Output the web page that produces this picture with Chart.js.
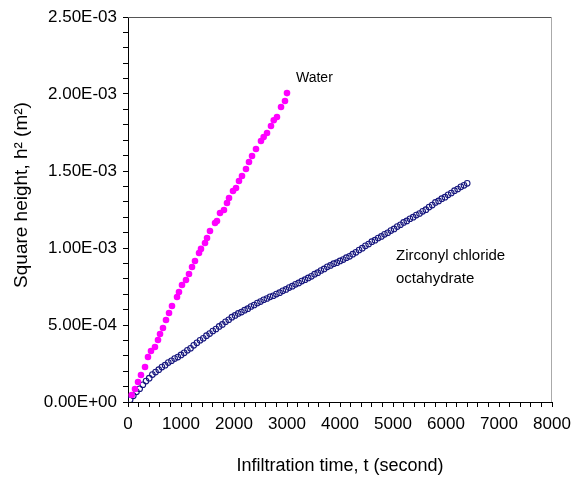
<!DOCTYPE html>
<html>
<head>
<meta charset="utf-8">
<script src="https://cdn.jsdelivr.net/npm/chart.js@4.4.1/dist/chart.umd.min.js"></script>
<style>
  html, body { margin: 0; padding: 0; background: #fff; }
  #wrap { width: 573px; height: 477px; }
</style>
</head>
<body>
<div id="wrap"><canvas id="chart"></canvas></div>
<script>
// Water : temps (s) et h² en unités de 1e-4 m²
const waterTime = [70, 132, 189, 245, 321, 377, 434, 509, 566, 604, 660, 717, 774, 830, 925, 962,
  1019, 1094, 1151, 1208, 1264, 1340, 1377, 1453, 1491, 1547, 1642, 1679, 1736, 1811, 1868, 1906,
  1981, 2038, 2094, 2151, 2226, 2283, 2340, 2415, 2509, 2560, 2623, 2698, 2750, 2811, 2887, 2962, 3000];
const waterH2 = [0.45, 0.84, 1.30, 1.75, 2.27, 2.92, 3.31, 3.57, 4.03, 4.42, 4.81, 5.32, 5.78, 6.23, 6.82, 7.14,
  7.60, 7.92, 8.31, 8.77, 9.16, 9.68, 9.94, 10.32, 10.65, 11.10, 11.62, 11.75, 12.27, 12.47, 12.92, 13.25,
  13.70, 13.90, 14.35, 14.68, 15.13, 15.58, 15.97, 16.43, 16.95, 17.20, 17.47, 17.92, 18.30, 18.51, 19.16, 19.55, 20.06];

// Zirconyl chloride octahydrate
const zrTime = [40, 100, 160, 220, 280, 340, 400, 460, 520, 580, 640, 700, 760, 820, 880, 940, 1000, 1060,
  1120, 1180, 1240, 1300, 1360, 1420, 1480, 1540, 1600, 1660, 1720, 1780, 1840, 1900, 1960, 2020, 2080,
  2140, 2200, 2260, 2320, 2380, 2440, 2500, 2560, 2620, 2680, 2740, 2800, 2860, 2920, 2980, 3040, 3100,
  3160, 3220, 3280, 3340, 3400, 3460, 3520, 3580, 3640, 3700, 3760, 3820, 3880, 3940, 4000, 4060, 4120,
  4180, 4240, 4300, 4360, 4420, 4480, 4540, 4600, 4660, 4720, 4780, 4840, 4900, 4960, 5020, 5080, 5140,
  5200, 5260, 5320, 5380, 5440, 5500, 5560, 5620, 5680, 5740, 5800, 5860, 5920, 5980, 6040, 6100, 6160,
  6220, 6280, 6340, 6400];
const zrH2 = [0.15, 0.40, 0.66, 0.86, 1.12, 1.36, 1.55, 1.78, 1.94, 2.10,
  2.27, 2.39, 2.56, 2.68, 2.82, 2.92, 3.06, 3.19, 3.36, 3.49,
  3.68, 3.84, 4.01, 4.14, 4.31, 4.44, 4.61, 4.74, 4.91, 5.04,
  5.21, 5.34, 5.51, 5.62, 5.75, 5.84, 5.96, 6.06, 6.20, 6.30,
  6.43, 6.52, 6.64, 6.72, 6.83, 6.90, 7.01, 7.10, 7.22, 7.31,
  7.43, 7.52, 7.64, 7.73, 7.85, 7.94, 8.06, 8.16, 8.30, 8.40,
  8.54, 8.64, 8.78, 8.87, 8.98, 9.05, 9.16, 9.25, 9.37, 9.46,
  9.60, 9.72, 9.87, 9.99, 10.14, 10.26, 10.41, 10.51, 10.65, 10.75,
  10.89, 10.99, 11.13, 11.24, 11.39, 11.51, 11.66, 11.76, 11.90, 12.00,
  12.14, 12.24, 12.38, 12.49, 12.66, 12.79, 12.96, 13.06, 13.20, 13.30,
  13.45, 13.57, 13.72, 13.83, 13.97, 14.07, 14.20];

// Axes
const xMin = 0, xMax = 8000, xMajor = 1000, xMinor = 200;
const yMin = 0, yMax = 2.5e-3, yMajor = 5e-4, yMinor = 1e-4;

const UNIT = 1e-4;
function points(ts, hs) {
  return ts.map((t, i) => ({ x: t, y: hs[i] * UNIT }));
}

function sci(v) {
  if (Math.abs(v) < 1e-12) return '0.00E+00';
  const parts = v.toExponential(2).split('e');
  const n = parseInt(parts[1], 10);
  return parts[0] + 'E' + (n < 0 ? '-' : '+') + String(Math.abs(n)).padStart(2, '0');
}

const FONT = '"Liberation Sans", Arial, sans-serif';

// textes libres : titre Y et étiquettes des courbes
const extras = {
  id: 'extras',
  afterDraw(chart) {
    const ctx = chart.ctx;
    const a = chart.chartArea;
    ctx.save();
    // cadre haut et droit
    ctx.lineWidth = 1;
    ctx.strokeStyle = '#555';
    ctx.beginPath();
    ctx.moveTo(a.left, a.top + 0.5);
    ctx.lineTo(a.right, a.top + 0.5);
    ctx.stroke();
    ctx.strokeStyle = '#aaa';
    ctx.beginPath();
    ctx.moveTo(a.right - 0.5, a.top);
    ctx.lineTo(a.right - 0.5, a.bottom);
    ctx.stroke();

    ctx.fillStyle = '#000';
    ctx.textAlign = 'left';
    ctx.textBaseline = 'alphabetic';
    ctx.font = '14px ' + FONT;
    ctx.fillText('Water', 296, 82);
    ctx.font = '15px ' + FONT;
    ctx.fillText('Zirconyl chloride', 396, 260);
    ctx.fillText('octahydrate', 396, 283);

    ctx.translate(22, 195);
    ctx.rotate(-Math.PI / 2);
    ctx.font = '19px ' + FONT;
    ctx.textAlign = 'center';
    ctx.textBaseline = 'middle';
    ctx.fillText('Square height, h\u00B2 (m\u00B2)', 0, 0);
    ctx.restore();
  }
};

const ctx = document.getElementById('chart').getContext('2d');
new Chart(ctx, {
  type: 'scatter',
  data: {
    datasets: [
      {
        label: 'Water',
        data: points(waterTime, waterH2),
        backgroundColor: '#ff00ff',
        borderColor: '#ff00ff',
        borderWidth: 0,
        pointRadius: 3.3
      },
      {
        label: 'Zirconyl chloride octahydrate',
        data: points(zrTime, zrH2),
        backgroundColor: 'rgba(0,0,0,0)',
        borderColor: '#16167e',
        borderWidth: 1.1,
        pointRadius: 2.8
      }
    ]
  },
  options: {
    responsive: true,
    maintainAspectRatio: false,
    animation: false,
    layout: { padding: { left: 0, right: 21, top: 17, bottom: 0 } },
    plugins: { legend: { display: false }, tooltip: { enabled: false } },
    scales: {
      x: {
        type: 'linear',
        min: xMin,
        max: xMax,
        afterFit(scale) { scale.height = 75; scale.paddingLeft = 0; scale.paddingRight = 0; },
        grid: { drawOnChartArea: false, drawTicks: true, tickLength: 5, color: '#000' },
        border: { display: true, color: '#000', width: 1 },
        ticks: {
          stepSize: xMinor,
          autoSkip: false,
          maxRotation: 0,
          padding: 7,
          color: '#000',
          font: { family: FONT, size: 17 },
          callback(v) { return Math.round(v) % xMajor === 0 ? String(Math.round(v)) : ''; }
        },
        title: {
          display: true,
          text: 'Infiltration time, t (second)',
          color: '#000',
          font: { family: FONT, size: 18 },
          padding: { top: 0, bottom: 0 }
        }
      },
      y: {
        type: 'linear',
        min: yMin,
        max: yMax,
        afterFit(scale) { scale.width = 128; scale.paddingTop = 0; scale.paddingBottom = 0; },
        grid: { drawOnChartArea: false, drawTicks: true, tickLength: 5, color: '#000' },
        border: { display: true, color: '#000', width: 1 },
        ticks: {
          stepSize: yMinor,
          autoSkip: false,
          padding: 6,
          color: '#000',
          font: { family: FONT, size: 17 },
          callback(v) {
            const k = Math.round(v / yMinor);
            return k % Math.round(yMajor / yMinor) === 0 ? sci(k * yMinor) : '';
          }
        }
      }
    }
  },
  plugins: [extras]
});
</script>
</body>
</html>
